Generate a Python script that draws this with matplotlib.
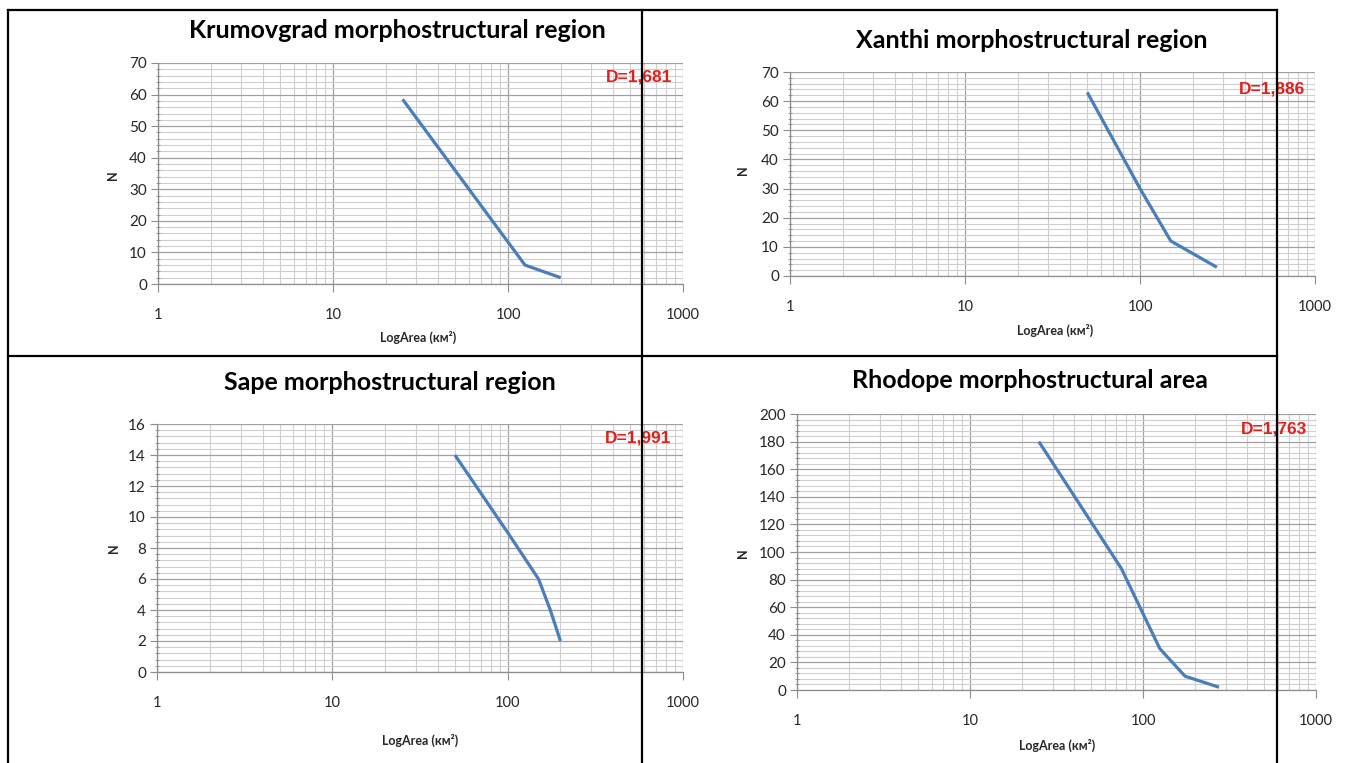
import matplotlib
matplotlib.use('Agg')
import matplotlib.pyplot as plt
from matplotlib.lines import Line2D
from matplotlib.ticker import MultipleLocator, LogLocator, NullFormatter, FixedFormatter, FixedLocator

W, H = 1347, 763

# data
titles = ['Krumovgrad morphostructural region', 'Xanthi morphostructural region',
          'Sape morphostructural region', 'Rhodope morphostructural area']
d_labels = ['D=1,681', 'D=1,886', 'D=1,991', 'D=1,763']

krum_area = [25, 125, 200]
krum_n = [58.5, 6, 2]
xanthi_area = [50, 100, 150, 275]
xanthi_n = [63, 30, 12, 3]
sape_area = [50, 100, 150, 175, 200]
sape_n = [14, 9, 6, 4, 2]
rhod_area = [25, 75, 125, 175, 275]
rhod_n = [180, 88, 30, 10, 2]

areas = [krum_area, xanthi_area, sape_area, rhod_area]
ns = [krum_n, xanthi_n, sape_n, rhod_n]
ymax = [70, 70, 16, 200]
ymajor = [10, 10, 2, 20]
yminor = [2, 2, 0.4, 4]
x_ticks = [1, 10, 100, 1000]
x_tick_labels = ['1', '10', '100', '1000']

# layout in pixels: axes box (left, right, top, bottom), title, N label, x label, D text
boxes = [(158, 683, 63, 284), (790, 1315, 72, 276), (157, 683, 424, 672), (797, 1316, 414, 690)]
title_pos = [(397, 30), (1032, 40), (390, 383), (1030, 381)]
nlab_pos = [(113, 175), (743, 170), (114, 548), (743, 553)]
xlab_pos = [(418, 337), (1055, 330), (420, 740), (1057, 745)]
d_pos = [(672, 77), (1305, 89), (671, 438), (1307, 429)]

font = 'Lato'
fig = plt.figure(figsize=(W / 100, H / 100), dpi=100)

def fx(x):
    return x / W

def fy(y):
    return 1 - y / H

for i in range(4):
    l, r, t, b = boxes[i]
    ax = fig.add_axes([fx(l), fy(b), (r - l) / W, (b - t) / H])
    ax.plot(areas[i], ns[i], color='#4a7ebb', lw=2.3, solid_capstyle='butt', zorder=3)
    ax.set_xscale('log')
    ax.set_xlim(1, 1000)
    ax.set_ylim(0, ymax[i])
    ax.xaxis.set_major_locator(FixedLocator(x_ticks))
    ax.xaxis.set_major_formatter(FixedFormatter(x_tick_labels))
    ax.xaxis.set_minor_locator(LogLocator(base=10, subs=range(2, 10)))
    ax.xaxis.set_minor_formatter(NullFormatter())
    ax.yaxis.set_major_locator(MultipleLocator(ymajor[i]))
    ax.yaxis.set_minor_locator(MultipleLocator(yminor[i]))
    ax.grid(which='major', color='#a0a0a0', lw=0.9)
    ax.grid(which='minor', color='#cfcfcf', lw=0.8)
    ax.set_axisbelow(True)
    for s in ['top', 'right']:
        ax.spines[s].set_visible(False)
    for s in ['left', 'bottom']:
        ax.spines[s].set_color('#8c8c8c')
        ax.spines[s].set_linewidth(0.9)
    ax.tick_params(axis='x', which='major', length=6, color='#8c8c8c', pad=11,
                   labelsize=10.5, labelcolor='#262626')
    ax.tick_params(axis='x', which='minor', length=0)
    ax.tick_params(axis='y', which='major', length=5, color='#8c8c8c', pad=3,
                   labelsize=11, labelcolor='#262626')
    ax.tick_params(axis='y', which='minor', length=3, direction='inout', color='#8c8c8c')
    for lab in ax.get_xticklabels() + ax.get_yticklabels():
        lab.set_fontfamily(font)

    fig.text(fx(title_pos[i][0]), fy(title_pos[i][1]), titles[i], ha='center', va='center',
             fontsize=18, fontweight='bold', family=font, color='black')
    fig.text(fx(nlab_pos[i][0]), fy(nlab_pos[i][1]), 'N', ha='center', va='center',
             rotation=90, fontsize=9, fontweight='bold', family=font, color='#262626')
    fig.text(fx(xlab_pos[i][0]), fy(xlab_pos[i][1]), 'LogArea (км²)', ha='center', va='center',
             fontsize=9, fontweight='bold', family=font, color='#262626')
    fig.text(fx(d_pos[i][0]), fy(d_pos[i][1]), d_labels[i], ha='right', va='center',
             fontsize=12.5, fontweight='bold', family='Liberation Sans', color='#e0201c', zorder=5)

# black frame drawn on top of the panels
frame = [((8, 1277), (10, 10)), ((8, 1277), (356, 356)), ((8, 8), (10, 763)),
         ((642, 642), (10, 763)), ((1277, 1277), (10, 763))]
for xs, ys in frame:
    fig.add_artist(Line2D([fx(xs[0]), fx(xs[1])], [fy(ys[0]), fy(ys[1])],
                          color='black', lw=1.6, zorder=10))

fig.savefig('out.png', dpi=100)
